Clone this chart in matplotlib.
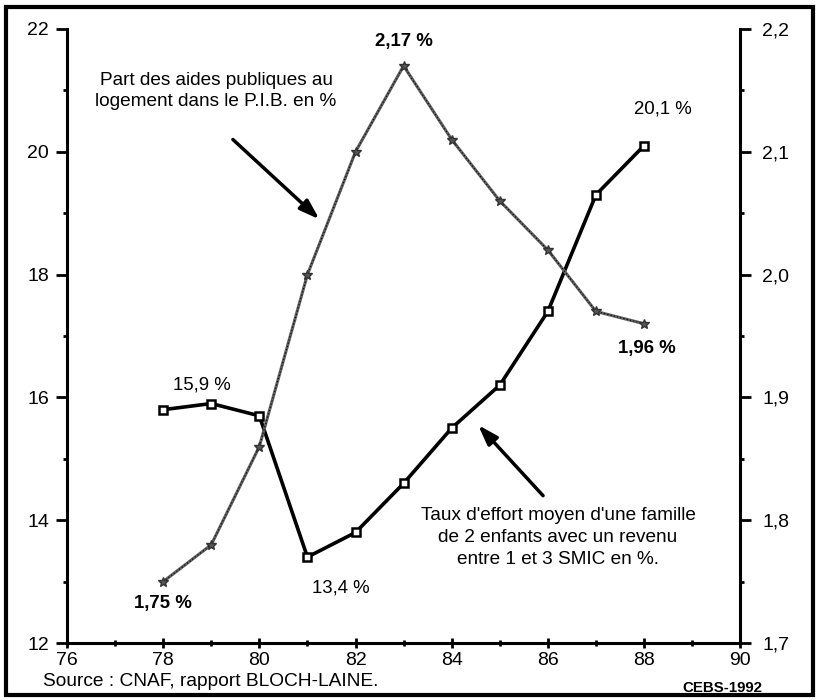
import matplotlib.pyplot as plt
from matplotlib.patches import Rectangle

plt.rcParams['font.family'] = ['Liberation Sans', 'DejaVu Sans']

# data
years = [78, 79, 80, 81, 82, 83, 84, 85, 86, 87, 88]
taux_effort = [15.8, 15.9, 15.7, 13.4, 13.8, 14.6, 15.5, 16.2, 17.4, 19.3, 20.1]
aides_pib = [1.75, 1.78, 1.86, 2.00, 2.10, 2.17, 2.11, 2.06, 2.02, 1.97, 1.96]

x_ticks = [76, 78, 80, 82, 84, 86, 88, 90]
left_ticks = [12, 14, 16, 18, 20, 22]
right_ticks = [1.7, 1.8, 1.9, 2.0, 2.1, 2.2]
right_labels = ['1,7', '1,8', '1,9', '2,0', '2,1', '2,2']

fig = plt.figure(figsize=(8.17, 7.0), dpi=100)
ax = fig.add_axes([0.082, 0.0814, 0.824, 0.8772])
ax2 = ax.twinx()

# outer frame
fig.patches.append(Rectangle((0.007, 0.007), 0.988, 0.983, transform=fig.transFigure,
                             fill=False, lw=3, color='black'))

# series on the right axis (gray hatched line with stars)
ax2.plot(years, aides_pib, color='#5e5e5e', lw=2.2, zorder=2)
ax2.plot(years, aides_pib, color='black', lw=0.8, ls=(0, (1, 2)), zorder=3,
         marker='*', ms=7, mfc='#555555', mec='#333333')

# series on the left axis (thick black line with squares)
ax.plot(years, taux_effort, color='black', lw=2.6, marker='s', ms=6,
        mfc='white', mec='black', mew=1.8, zorder=4)

ax.set_xlim(76, 90)
ax.set_ylim(12, 22)
ax2.set_ylim(1.7, 2.2)

ax.set_xticks(x_ticks)
ax.set_xticks(range(77, 90, 2), minor=True)
ax.set_yticks(left_ticks)
ax.set_yticks(range(13, 22, 2), minor=True)
ax2.set_yticks(right_ticks)
ax2.set_yticklabels(right_labels)
ax2.set_yticks([1.75, 1.85, 1.95, 2.05, 2.15], minor=True)

for a in (ax, ax2):
    a.spines['top'].set_visible(False)
    for s in a.spines.values():
        s.set_linewidth(2.2)
ax.spines['right'].set_visible(False)
ax2.spines['left'].set_visible(False)
ax2.spines['bottom'].set_visible(False)

ax.tick_params(axis='y', which='major', direction='out', length=8, width=2, labelsize=14, pad=5)
ax.tick_params(axis='y', which='minor', direction='out', length=3, width=2)
ax.tick_params(axis='x', which='major', direction='inout', length=7, width=2, labelsize=14, pad=3)
ax.tick_params(axis='x', which='minor', direction='inout', length=4, width=2)
ax2.tick_params(axis='y', which='major', direction='out', length=8, width=2, labelsize=14, pad=8)
ax2.tick_params(axis='y', which='minor', direction='out', length=3, width=2)

# value labels
ax2.text(83, 2.19, '2,17 %', ha='center', va='center', fontsize=13.4, fontweight='bold')
ax2.text(78, 1.732, '1,75 %', ha='center', va='center', fontsize=13.4, fontweight='bold')
ax2.text(88.05, 1.94, '1,96 %', ha='center', va='center', fontsize=13.4, fontweight='bold')
ax.text(78.8, 16.2, '15,9 %', ha='center', va='center', fontsize=13.4)
ax.text(81.7, 12.9, '13,4 %', ha='center', va='center', fontsize=13.4)
ax.text(88.4, 20.7, '20,1 %', ha='center', va='center', fontsize=13.4)

# annotations with arrows
ax.text(79.1, 20.99, 'Part des aides publiques au\nlogement dans le P.I.B. en %',
        ha='center', va='center', fontsize=13.7, linespacing=1.3)
ax.annotate('', xy=(81.25, 18.9), xytext=(79.45, 20.2),
            arrowprops=dict(arrowstyle='-|>,head_length=1.2,head_width=0.4',
                            color='black', lw=2.5, shrinkA=0, shrinkB=0))
ax.text(86.21, 13.72, "Taux d'effort moyen d'une famille\nde 2 enfants avec un revenu\nentre 1 et 3 SMIC en %.",
        ha='center', va='center', fontsize=13.7, linespacing=1.38)
ax.annotate('', xy=(84.55, 15.55), xytext=(85.9, 14.4),
            arrowprops=dict(arrowstyle='-|>,head_length=1.2,head_width=0.4',
                            color='black', lw=2.5, shrinkA=0, shrinkB=0))

fig.text(0.053, 0.026, 'Source : CNAF, rapport BLOCH-LAINE.', fontsize=13.8, va='center')
fig.text(0.835, 0.017, 'CEBS-1992', fontsize=10.8, fontweight='bold', va='center')

fig.savefig('out.png', dpi=100)
